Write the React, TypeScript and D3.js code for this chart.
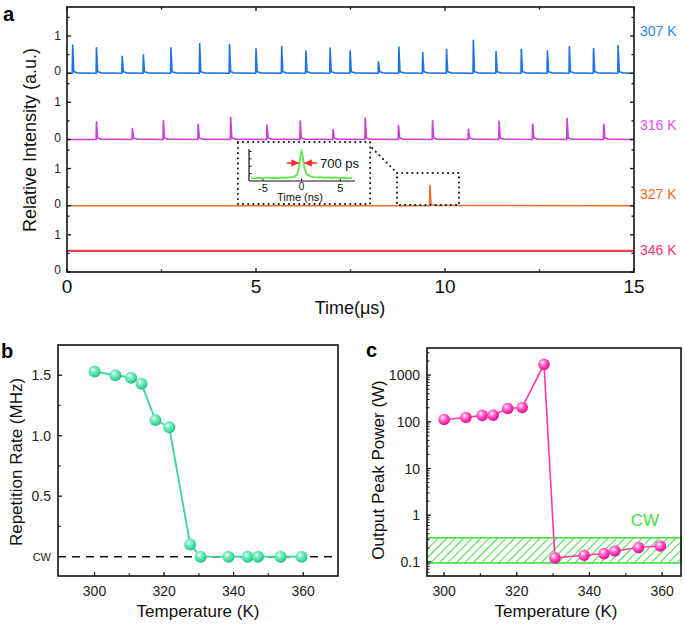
import React from 'react';
import * as d3 from 'd3';

// ---- panel a: pulse trains (time in µs, relative height) ----
const pulseTimes307 = [0.15, 0.78, 1.46, 2.02, 2.75, 3.51, 4.3, 5.0, 5.68, 6.32, 6.96, 7.49, 8.24, 8.78, 9.41, 10.04, 10.75, 11.35, 12.02, 12.71, 13.29, 13.93, 14.58];
const pulseHeights307 = [0.77, 0.7, 0.47, 0.51, 0.7, 0.81, 0.79, 0.67, 0.73, 0.62, 0.69, 0.62, 0.32, 0.72, 0.57, 0.66, 0.9, 0.6, 0.66, 0.62, 0.73, 0.68, 0.76];
const pulseTimes316 = [0.78, 1.73, 2.55, 3.47, 4.33, 5.29, 6.17, 7.04, 7.89, 8.77, 9.67, 10.62, 11.43, 12.32, 13.23, 14.2];
const pulseHeights316 = [0.49, 0.31, 0.52, 0.42, 0.61, 0.4, 0.51, 0.28, 0.59, 0.38, 0.52, 0.29, 0.5, 0.43, 0.58, 0.42];
const pulseTimes327 = [9.6];
const pulseHeights327 = [0.56];
const cwLevel346 = 0.57;
const traceLabels = ['307 K', '316 K', '327 K', '346 K'];
const timeTicks = [0, 5, 10, 15];

// inset pulse (ns, normalized)
const insetT = [-6.5, -6, -5.5, -5, -4.5, -4, -3.5, -3, -2.5, -2, -1.5, -1, -0.6, -0.35, -0.15, 0, 0.15, 0.35, 0.6, 1, 1.5, 2, 2.5, 3, 3.5, 4, 4.5, 5, 5.5, 6, 6.5];
const insetV = [0.1, 0.09, 0.11, 0.1, 0.12, 0.1, 0.11, 0.1, 0.12, 0.11, 0.12, 0.14, 0.2, 0.45, 0.85, 1, 0.85, 0.45, 0.25, 0.17, 0.13, 0.12, 0.13, 0.11, 0.12, 0.11, 0.12, 0.1, 0.11, 0.1, 0.11];

// ---- panels b & c ----
const temperatures = [300, 306, 310.5, 313.5, 317.5, 321.5, 327.5, 330.5, 338.5, 344, 347, 353.5, 359.5];
const repRate = [1.53, 1.5, 1.48, 1.43, 1.13, 1.07, 0.1, 0, 0, 0, 0, 0, 0];
const peakPower = [112, 124, 137, 139, 193, 203, 1700, 0.122, 0.139, 0.151, 0.172, 0.203, 0.22];
const cwBand = [0.095, 0.33];
const tempTicks = [300, 320, 340, 360];
const rateTicks = [0.5, 1.0, 1.5];
const powerTicks = [0.1, 1, 10, 100, 1000];

const FONT = '"Liberation Sans", Arial, sans-serif';

const traceColors = ['#1f74e0', '#cc40d8', '#e8702c', '#f03c5c'];
const labelColors = ['#2a86f0', '#e052ee', '#f26522', '#f0346a'];

function pulsePath(times: number[], heights: number[], x: any, y: any) {
  const pts: [number, number][] = [[0, 0]];
  times.forEach((t, i) => {
    pts.push([t - 0.01, 0], [t, heights[i]], [t + 0.03, 0.04], [t + 0.12, 0.01]);
  });
  pts.push([15, 0]);
  return d3.line().x(d => x(d[0])).y(d => y(d[1]))(pts);
}

export default function App() {
  // panel a geometry
  const aL = 67, aR = 634, aT = 7, aB = 272;
  const subH = (aB - aT) / 4;
  const xA = d3.scaleLinear().domain([0, 15]).range([aL, aR]);
  const yA = [0, 1, 2, 3].map(i => d3.scaleLinear().domain([0, 1.78]).range([aT + subH * (i + 1), aT + subH * i]));

  const traces = [
    pulsePath(pulseTimes307, pulseHeights307, xA, yA[0]),
    pulsePath(pulseTimes316, pulseHeights316, xA, yA[1]),
    pulsePath(pulseTimes327, pulseHeights327, xA, yA[2]),
    d3.line()([[xA(0), yA[3](cwLevel346)], [xA(15), yA[3](cwLevel346)]]),
  ];
  const labelY = [36, 130, 199, 255];

  // inset
  const xIn = d3.scaleLinear().domain([-6.8, 6.9]).range([249, 355]);
  const yIn = d3.scaleLinear().domain([0, 1.05]).range([181, 150]);
  const insetPath = d3.line<number>().x((_, i) => xIn(insetT[i])).y(d => yIn(d))(insetV);

  // panel b
  const xB = d3.scaleLinear().domain([289.5, 370]).range([58, 338]);
  const yB = d3.scaleLinear().domain([-0.16, 1.75]).range([576, 345]);
  const lineB = d3.line<number>().x((_, i) => xB(temperatures[i])).y(d => yB(d))(repRate);

  // panel c
  const xC = d3.scaleLinear().domain([295.3, 365.2]).range([427, 681]);
  const yC = d3.scaleLog().domain([0.05, 3800]).range([576, 348]);
  const lineC = d3.line<number>().x((_, i) => xC(temperatures[i])).y(d => yC(d))(peakPower);
  const minorLog: number[] = [];
  [0.01, 0.1, 1, 10, 100, 1000].forEach(dec => {
    for (let k = 2; k <= 9; k++) {
      const v = dec * k;
      if (v > 0.05 && v < 3800) minorLog.push(v);
    }
  });

  const dotted = { stroke: '#111', strokeWidth: 2, strokeDasharray: '0.1,5', strokeLinecap: 'round' as const, fill: 'none' };

  return (
    <svg width={685} height={624} style={{ position: 'absolute', left: 0, top: 0, background: '#fff' }} fontFamily={FONT}>
      <defs>
        <radialGradient id="ballG" cx="38%" cy="35%" r="70%">
          <stop offset="0%" stopColor="#ffffff" />
          <stop offset="25%" stopColor="#8ff0c8" />
          <stop offset="70%" stopColor="#3ddc9e" />
          <stop offset="100%" stopColor="#22b07c" />
        </radialGradient>
        <radialGradient id="ballP" cx="38%" cy="35%" r="70%">
          <stop offset="0%" stopColor="#ffffff" />
          <stop offset="25%" stopColor="#ff8fd6" />
          <stop offset="70%" stopColor="#ff26ac" />
          <stop offset="100%" stopColor="#d0108a" />
        </radialGradient>
        <pattern id="hatch" width="6" height="6" patternUnits="userSpaceOnUse" patternTransform="rotate(45)">
          <line x1="0" y1="0" x2="0" y2="6" stroke="#44dd44" strokeWidth="2" />
        </pattern>
        <marker id="arrR" viewBox="0 0 6 6" refX="6" refY="3" markerWidth="5" markerHeight="5" orient="auto">
          <path d="M0,0 L6,3 L0,6 z" fill="#ff2a2a" />
        </marker>
      </defs>

      {/* ===== panel a ===== */}
      <text x={3} y={21} fontSize={20} fontWeight="bold">a</text>
      {traces.map((d, i) => (
        <path key={i} d={d || ''} fill="none" stroke={traceColors[i]} strokeWidth={i === 3 ? 2.2 : 1.6} />
      ))}
      {/* sub-panel ticks on both sides */}
      {yA.map((y, i) => (
        <g key={i}>
          {[0, 0.5, 1, 1.5].map(v => {
            const len = v % 1 === 0 ? 4 : 2.5;
            return (
              <g key={v}>
                <line x1={aL} x2={aL + len} y1={y(v)} y2={y(v)} stroke="#111" strokeWidth={1.3} />
                <line x1={aR} x2={aR - len} y1={y(v)} y2={y(v)} stroke="#111" strokeWidth={1.3} />
              </g>
            );
          })}
          <text x={61} y={y(1) + 4} fontSize={12} textAnchor="end" fill="#222">1</text>
          <text x={61} y={y(0) + 2} fontSize={12} textAnchor="end" fill="#222">0</text>
          <text x={640} y={labelY[i]} fontSize={14} fill={labelColors[i]}>{traceLabels[i]}</text>
        </g>
      ))}
      {[0, 2.5, 5, 7.5, 10, 12.5, 15].map(t => {
        const len = t % 5 === 0 ? 4 : 2.5;
        return (
          <g key={t}>
            <line x1={xA(t)} x2={xA(t)} y1={aB} y2={aB - len} stroke="#111" strokeWidth={1.3} />
            <line x1={xA(t)} x2={xA(t)} y1={aT} y2={aT + len} stroke="#111" strokeWidth={1.3} />
          </g>
        );
      })}
      <rect x={aL} y={aT} width={aR - aL} height={aB - aT} fill="none" stroke="#111" strokeWidth={1.6} />
      {timeTicks.map(t => (
        <text key={t} x={xA(t)} y={293} fontSize={19} textAnchor="middle" fill="#111">{t}</text>
      ))}
      <text x={350} y={314} fontSize={18} textAnchor="middle" fill="#111">Time(μs)</text>
      <text transform={`translate(36,${140}) rotate(-90)`} fontSize={18} textAnchor="middle" fill="#111">Relative Intensity (a.u.)</text>

      {/* inset dotted boxes */}
      <rect x={xA(4.52)} y={142} width={xA(8.02) - xA(4.52)} height={62} {...dotted} />
      <rect x={xA(8.73)} y={173} width={xA(10.37) - xA(8.73)} height={32} {...dotted} />
      <line x1={xA(8.02) + 2} y1={148} x2={xA(8.73)} y2={173} {...dotted} />
      {/* inset plot */}
      <line x1={249} x2={249} y1={149} y2={181} stroke="#111" strokeWidth={1.2} />
      <line x1={249} x2={355} y1={181} y2={181} stroke="#111" strokeWidth={1.2} />
      {[0.25, 0.5, 0.75, 1].map(v => (
        <line key={v} x1={249} x2={251.5} y1={yIn(v)} y2={yIn(v)} stroke="#111" strokeWidth={1} />
      ))}
      {[-5, 0, 5].map(t => (
        <line key={t} x1={xIn(t)} x2={xIn(t)} y1={181} y2={178.5} stroke="#111" strokeWidth={1} />
      ))}
      <path d={insetPath || ''} fill="none" stroke="#5ee84a" strokeWidth={1.8} />
      {[-5, 5].map(t => (
        <text key={t} x={xIn(t)} y={192} fontSize={11} textAnchor="middle" fill="#111">{t}</text>
      ))}
      <text x={xIn(0)} y={190} fontSize={10} textAnchor="middle" fill="#111">0</text>
      <text x={300} y={201} fontSize={11} textAnchor="middle" fill="#111">Time (ns)</text>
      <line x1={xIn(-1.9)} x2={xIn(-0.35)} y1={163} y2={163} stroke="#ff2a2a" strokeWidth={1.5} markerEnd="url(#arrR)" />
      <line x1={xIn(2.0)} x2={xIn(0.35)} y1={163} y2={163} stroke="#ff2a2a" strokeWidth={1.5} markerEnd="url(#arrR)" />
      <text x={320} y={167.5} fontSize={13} fill="#111">700 ps</text>

      {/* ===== panel b ===== */}
      <text x={1} y={358} fontSize={20} fontWeight="bold">b</text>
      <rect x={58} y={345} width={280} height={231} fill="none" stroke="#111" strokeWidth={1.6} />
      {[0.25, 0.5, 0.75, 1.0, 1.25, 1.5].map(v => (
        <line key={v} x1={58} x2={58 + ((v * 2) % 1 === 0 ? 4 : 2.5)} y1={yB(v)} y2={yB(v)} stroke="#111" strokeWidth={1.3} />
      ))}
      {[300, 310, 320, 330, 340, 350, 360].map(t => (
        <line key={t} x1={xB(t)} x2={xB(t)} y1={576} y2={576 - (t % 20 === 0 ? 4 : 2.5)} stroke="#111" strokeWidth={1.3} />
      ))}
      {rateTicks.map(v => (
        <text key={v} x={51} y={yB(v) + 5} fontSize={14} textAnchor="end" fill="#222">{v.toFixed(1)}</text>
      ))}
      <text x={51} y={yB(0) + 4} fontSize={11} textAnchor="end" fill="#222">CW</text>
      {tempTicks.map(t => (
        <text key={t} x={xB(t)} y={596} fontSize={14} textAnchor="middle" fill="#222">{t}</text>
      ))}
      <line x1={58} x2={338} y1={yB(0)} y2={yB(0)} stroke="#111" strokeWidth={1.5} strokeDasharray="8,6" />
      <path d={lineB || ''} fill="none" stroke="#38d49c" strokeWidth={1.8} />
      {repRate.map((v, i) => (
        <circle key={i} cx={xB(temperatures[i])} cy={yB(v)} r={6} fill="url(#ballG)" />
      ))}
      <text x={198} y={617} fontSize={17} textAnchor="middle" fill="#111">Temperature (K)</text>
      <text transform={`translate(22,${462}) rotate(-90)`} fontSize={17} textAnchor="middle" fill="#111">Repetition Rate (MHz)</text>

      {/* ===== panel c ===== */}
      <text x={366} y={357} fontSize={20} fontWeight="bold">c</text>
      <rect x={427} y={yC(cwBand[1])} width={254} height={yC(cwBand[0]) - yC(cwBand[1])} fill="url(#hatch)" stroke="#44dd44" strokeWidth={1.6} />
      <text x={645} y={526} fontSize={17} textAnchor="middle" fill="#44dd44">CW</text>
      <rect x={427} y={348} width={254} height={228} fill="none" stroke="#111" strokeWidth={1.6} />
      {minorLog.map(v => (
        <line key={v} x1={427} x2={429.5} y1={yC(v)} y2={yC(v)} stroke="#111" strokeWidth={1} />
      ))}
      {powerTicks.map(v => (
        <line key={v} x1={427} x2={431} y1={yC(v)} y2={yC(v)} stroke="#111" strokeWidth={1.3} />
      ))}
      {[300, 310, 320, 330, 340, 350, 360].map(t => (
        <line key={t} x1={xC(t)} x2={xC(t)} y1={576} y2={576 - (t % 20 === 0 ? 4 : 2.5)} stroke="#111" strokeWidth={1.3} />
      ))}
      {powerTicks.map(v => (
        <text key={v} x={420} y={yC(v) + 5} fontSize={14} textAnchor="end" fill="#222">{v}</text>
      ))}
      {tempTicks.map(t => (
        <text key={t} x={xC(t)} y={596} fontSize={14} textAnchor="middle" fill="#222">{t}</text>
      ))}
      <path d={lineC || ''} fill="none" stroke="#ff3aa8" strokeWidth={1.6} />
      {peakPower.map((v, i) => (
        <circle key={i} cx={xC(temperatures[i])} cy={yC(v)} r={5.8} fill="url(#ballP)" />
      ))}
      <text x={556} y={617} fontSize={17} textAnchor="middle" fill="#111">Temperature (K)</text>
      <text transform={`translate(384,${470}) rotate(-90)`} fontSize={17} textAnchor="middle" fill="#111">Output Peak Power (W)</text>
    </svg>
  );
}
